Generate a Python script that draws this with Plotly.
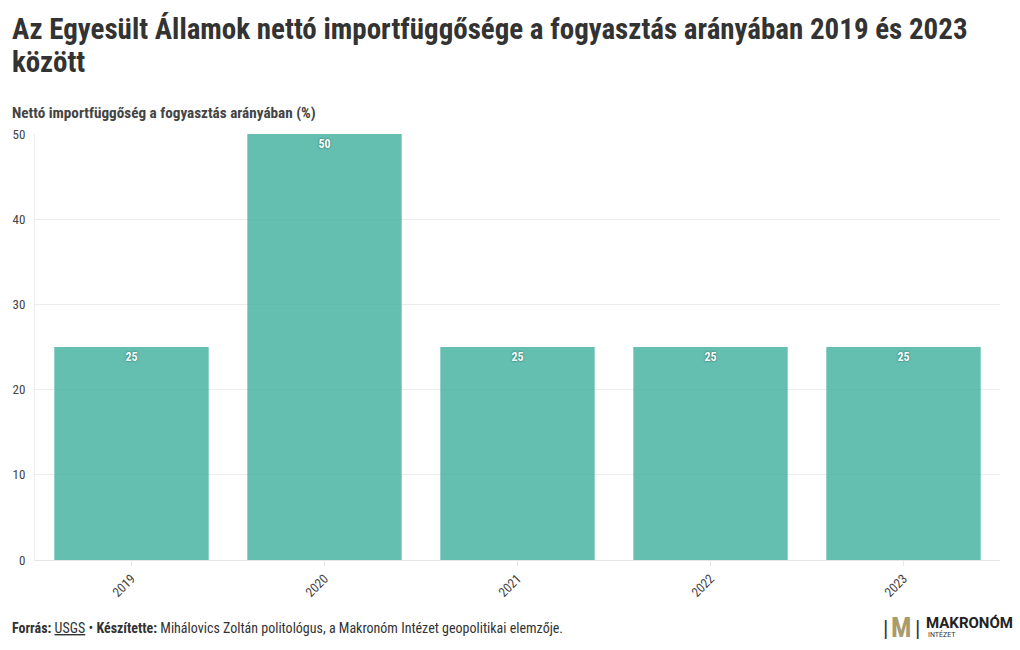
import plotly.graph_objects as go

years = ["2019", "2020", "2021", "2022", "2023"]
values = [25, 50, 25, 25, 25]
y_ticks = [0, 10, 20, 30, 40, 50]

FONT = "Roboto Condensed, Liberation Sans Narrow, Roboto, sans-serif"
BAR = "rgba(70,178,161,0.83)"

fig = go.Figure()
fig.add_trace(go.Bar(
    x=years, y=values,
    marker=dict(color=BAR, line=dict(width=0)),
    text=[str(v) for v in values],
    textposition="inside", insidetextanchor="end",
    textfont=dict(family=FONT, size=12, color="white", weight="bold",
                  shadow="0px 0px 2px rgba(20,90,80,1)"),
    cliponaxis=False,
    hoverinfo="skip",
))

fig.update_layout(
    width=1020, height=650,
    margin=dict(l=35, r=20, t=134, b=90),
    paper_bgcolor="white", plot_bgcolor="white",
    bargap=0.2,
    showlegend=False,
    font=dict(family=FONT, color="#444"),
    xaxis=dict(
        type="category",
        tickangle=-45,
        tickfont=dict(size=13, color="#444"),
        showgrid=False,
        showline=True, linecolor="#e6e6e6", linewidth=1,
        ticks="outside", ticklen=5, tickcolor="#e6e6e6",
    ),
    yaxis=dict(
        range=[0, 50],
        tickvals=y_ticks,
        tickfont=dict(size=13, color="#444"),
        showgrid=True, gridcolor="#ececec", gridwidth=1,
        zeroline=False,
        showline=True, linecolor="#ececec",
        ticks="", ticklabelstandoff=6,
    ),
)

TITLE_FONT = dict(family=FONT, size=29, color="#333", weight="bold")
fig.add_annotation(
    text="Az Egyesült Államok nettó importfüggősége a fogyasztás arányában 2019 és 2023",
    xref="paper", yref="paper", x=-0.026, y=1.246, xanchor="left", yanchor="middle",
    showarrow=False, font=TITLE_FONT,
)
fig.add_annotation(
    text="között",
    xref="paper", yref="paper", x=-0.026, y=1.168, xanchor="left", yanchor="middle",
    showarrow=False, font=TITLE_FONT,
)

fig.add_annotation(
    text="<b>Nettó importfüggőség a fogyasztás arányában (%)</b>",
    xref="paper", yref="paper", x=-0.026, y=1.05, xanchor="left", yanchor="middle",
    showarrow=False, font=dict(family=FONT, size=15.2, color="#444"),
)

fig.add_annotation(
    text="<b>Forrás:</b> <u>USGS</u> • <b>Készítette:</b> Mihálovics Zoltán politológus, a Makronóm Intézet geopolitikai elemzője.",
    xref="paper", yref="paper", x=-0.026, y=-0.16, xanchor="left", yanchor="middle",
    showarrow=False, font=dict(family=FONT, size=14, color="#333"),
)

# logo
fig.add_annotation(
    text="|", xref="paper", yref="paper", x=0.881, y=-0.16, xanchor="center", yanchor="middle",
    showarrow=False, font=dict(family=FONT, size=22, color="#333"),
)
fig.add_annotation(
    text="<b>M</b>", xref="paper", yref="paper", x=0.897, y=-0.16, xanchor="center", yanchor="middle",
    showarrow=False, font=dict(family=FONT, size=27, color="#a99b6b"),
)
fig.add_annotation(
    text="|", xref="paper", yref="paper", x=0.914, y=-0.16, xanchor="center", yanchor="middle",
    showarrow=False, font=dict(family=FONT, size=22, color="#333"),
)
fig.add_annotation(
    text="<b>MAKRONÓM</b>", xref="paper", yref="paper", x=0.921, y=-0.147, xanchor="left", yanchor="middle",
    showarrow=False, font=dict(family="Roboto, sans-serif", size=15, color="#222"),
)
fig.add_annotation(
    text="INTÉZET", xref="paper", yref="paper", x=0.923, y=-0.176, xanchor="left", yanchor="middle",
    showarrow=False, font=dict(family="Roboto, sans-serif", size=7, color="#333"),
)

fig.write_html("out.html", config={"displayModeBar": False},
               post_script="document.body.style.margin='0';document.body.style.overflow='hidden';")
